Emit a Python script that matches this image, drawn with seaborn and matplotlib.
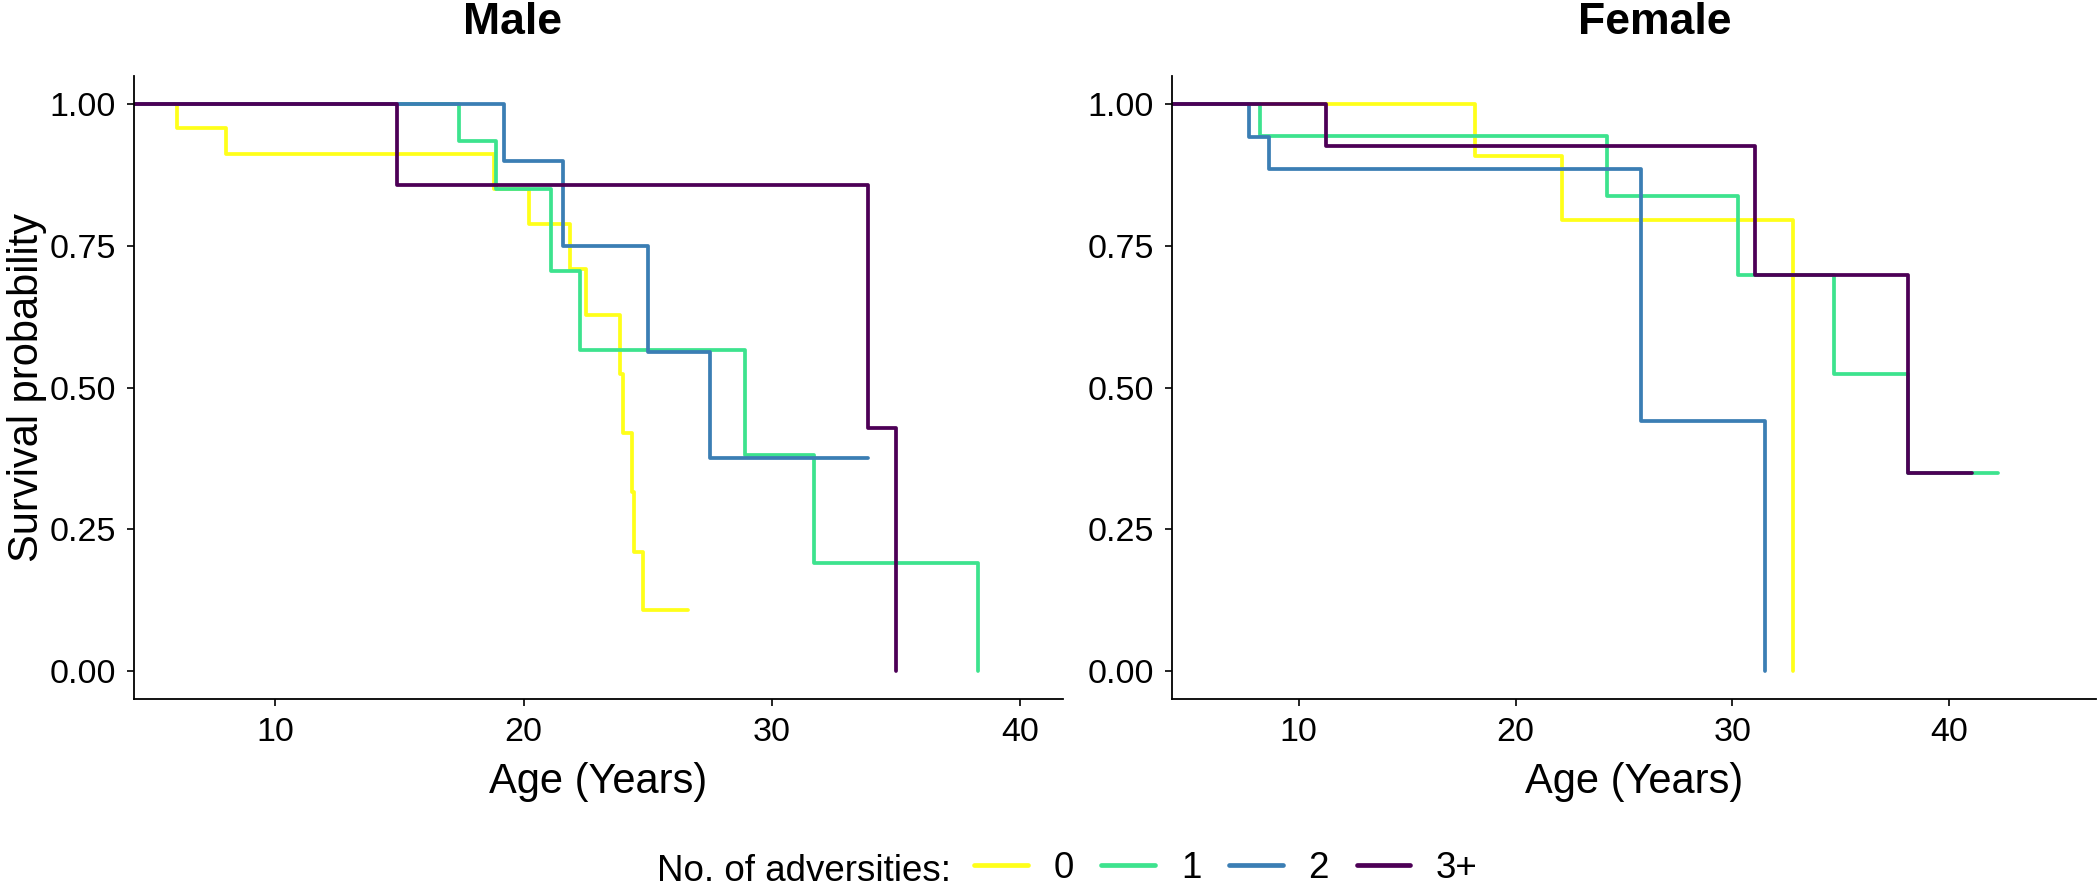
#!/usr/bin/env python3
"""
plot.py
Kaplan-Meier style survival curves by number of adversities, male vs female.
"""

import numpy as np
import pandas as pd
import matplotlib
matplotlib.use("Agg")
import matplotlib.pyplot as plt
from matplotlib.lines import Line2D
import seaborn as sns


GROUPS = ["0", "1", "2", "3+"]
COLORS = ["#FFFF1A", "#3DE38E", "#3B7EB4", "#4D0056"]
PANELS = ["Male", "Female"]

# Step curves: age at each step and survival probability after that step
male_t_0 = [4.3, 6.05, 8.0, 18.8, 20.2, 21.85, 22.5, 23.9, 24.0, 24.35, 24.45, 24.8, 26.6]
male_s_0 = [1.0, 0.958, 0.912, 0.85, 0.788, 0.71, 0.628, 0.523, 0.42, 0.315, 0.21, 0.107, 0.107]
male_t_1 = [4.3, 17.4, 18.9, 21.1, 22.25, 28.9, 31.7, 38.3]
male_s_1 = [1.0, 0.935, 0.85, 0.705, 0.566, 0.38, 0.19, 0.0]
male_t_2 = [4.3, 19.2, 21.6, 25.0, 27.5, 33.85]
male_s_2 = [1.0, 0.9, 0.75, 0.5625, 0.375, 0.375]
male_t_3 = [4.3, 14.9, 33.87, 35.0]
male_s_3 = [1.0, 0.857, 0.429, 0.0]

female_t_0 = [4.2, 18.15, 22.15, 32.8]
female_s_0 = [1.0, 0.908, 0.795, 0.0]
female_t_1 = [4.2, 8.2, 24.2, 30.25, 34.7, 38.1, 42.25]
female_s_1 = [1.0, 0.944, 0.839, 0.699, 0.524, 0.349, 0.349]
female_t_2 = [4.2, 7.7, 8.65, 25.8, 31.5]
female_s_2 = [1.0, 0.943, 0.885, 0.441, 0.0]
female_t_3 = [4.2, 11.25, 31.05, 38.1, 41.05]
female_s_3 = [1.0, 0.927, 0.699, 0.349, 0.349]

Y_TICKS = [0.0, 0.25, 0.5, 0.75, 1.0]
X_TICKS = [10, 20, 30, 40]


def build_frame():
    curves = {
        "Male": [(male_t_0, male_s_0), (male_t_1, male_s_1),
                 (male_t_2, male_s_2), (male_t_3, male_s_3)],
        "Female": [(female_t_0, female_s_0), (female_t_1, female_s_1),
                   (female_t_2, female_s_2), (female_t_3, female_s_3)],
    }
    rows = []
    for sex, series in curves.items():
        for grp, (t, s) in zip(GROUPS, series):
            for age, surv in zip(t, s):
                rows.append({"sex": sex, "group": grp, "age": age, "surv": surv})
    return pd.DataFrame(rows)


def main():
    df = build_frame()

    sns.set_theme(style="ticks")
    plt.rcParams["font.family"] = ["Liberation Sans", "DejaVu Sans"]
    plt.rcParams["text.color"] = "black"
    plt.rcParams["axes.labelcolor"] = "black"

    fig = plt.figure(figsize=(21, 8.89), dpi=100)
    W, H = 2100, 889
    boxes = {
        "Male": (134 / W, 190 / H, 929 / W, 623 / H),
        "Female": (1172 / W, 190 / H, 924 / W, 623 / H),
    }
    xlims = {"Male": (4.31, 41.72), "Female": (4.16, 46.76)}
    title_x = {"Male": 512 / W, "Female": 1655 / W}

    for sex in PANELS:
        ax = fig.add_axes(boxes[sex])
        sub = df[df["sex"] == sex]
        sns.lineplot(data=sub, x="age", y="surv", hue="group",
                     hue_order=GROUPS, palette=COLORS,
                     drawstyle="steps-post", estimator=None, sort=False,
                     linewidth=2.7, legend=False, ax=ax)

        ax.set_xlim(*xlims[sex])
        ax.set_ylim(-0.05, 1.05)
        ax.set_xticks(X_TICKS)
        ax.set_yticks(Y_TICKS)
        ax.set_yticklabels([f"{v:.2f}" for v in Y_TICKS])
        ax.tick_params(length=5, width=1.2, pad=8, labelsize=24.5,
                       colors="black", labelcolor="black")
        sns.despine(ax=ax)
        for side in ["left", "bottom"]:
            ax.spines[side].set_linewidth(1.3)
            ax.spines[side].set_color("black")

        ax.set_xlabel("Age (Years)", fontsize=30, labelpad=10, color="black")
        ax.set_ylabel("")

        fig.text(title_x[sex], 1 - 34 / H, sex, ha="center", va="baseline",
                 fontsize=32, fontweight="bold", color="black")

    fig.text(27 / W, 1 - 388 / H, "Survival probability", rotation=90,
             ha="center", va="center", fontsize=30, color="black")

    # Legend along the bottom
    fig.text(657 / W, 8 / H, "No. of adversities:", ha="left",
             va="baseline", fontsize=26.5, color="black")
    handles = [Line2D([], [], color=c, lw=3.4) for c in COLORS]
    leg = fig.legend(handles, GROUPS, ncol=4, loc="center",
                     bbox_to_anchor=(1226 / W, 21 / H), frameon=False,
                     fontsize=26.5, handlelength=1.46, handletextpad=0.7,
                     columnspacing=0.75, borderpad=0, borderaxespad=0)
    for txt in leg.get_texts():
        txt.set_color("black")

    fig.savefig("out.png", dpi=100)
    plt.close(fig)


if __name__ == "__main__":
    main()
